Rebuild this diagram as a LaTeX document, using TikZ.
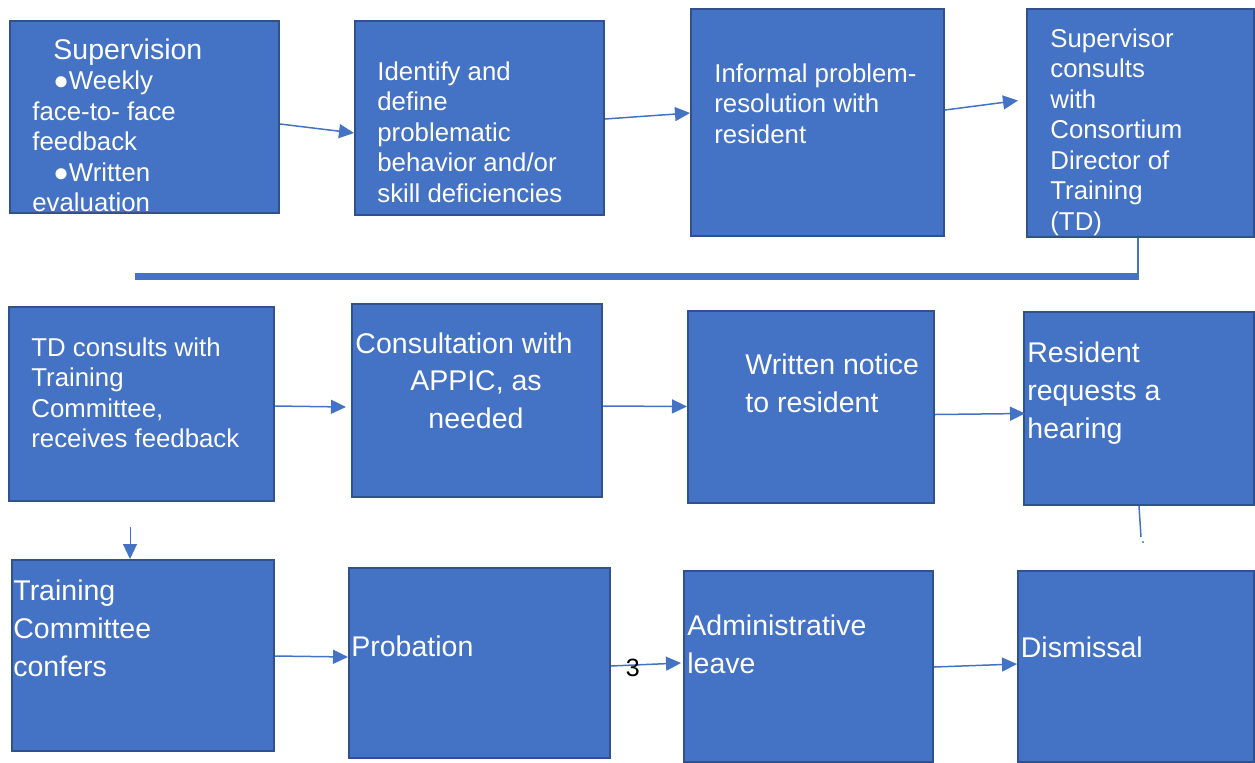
\documentclass[tikz,border=0pt]{standalone}
\usepackage{fontspec}
\setmainfont{Liberation Sans}
\usepackage{tikz}
\usetikzlibrary{arrows.meta}
\definecolor{boxblue}{HTML}{4472C4}
\definecolor{boxedge}{HTML}{2F528F}

\begin{document}
\begin{tikzpicture}[x=0.5pt,y=-0.5pt,
    box/.style={draw=boxedge,fill=boxblue,line width=1pt,inner sep=0pt},
    small/.style={text=white,inner sep=0pt,anchor=base west,align=left,font=\fontsize{12.9}{15.25}\selectfont},
    big/.style={text=white,inner sep=0pt,anchor=base west,align=left,font=\fontsize{14.25}{19}\selectfont},
    arr/.style={draw=boxblue,line width=0.75pt,-{Triangle[length=7.5pt,width=7pt]}},
    link/.style={draw=boxblue,line width=0.75pt}]
  \useasboundingbox (0,0) rectangle (1255,762);

  % first row
  \node[box,minimum width=134.5pt,minimum height=96pt] (sup) at (144.5,117) {};
  \node[box,minimum width=124.5pt,minimum height=97pt] (idf) at (479.5,118) {};
  \node[box,minimum width=126.5pt,minimum height=113.5pt] (inf) at (817.5,122.5) {};
  \node[box,minimum width=113.5pt,minimum height=114pt] (con) at (1140.5,123) {};

  % text nodes sit on the baseline of their last line
  \begin{scope}
    \clip (sup.north west) rectangle (sup.south east);
    \node[small] (supT) at (32,211.5) {\hspace*{10.5pt}{\fontsize{14.25}{15.25}\selectfont Supervision}\\
      \hspace*{10.5pt}●Weekly\\face-to- face\\feedback\\\hspace*{10.5pt}●Written\\evaluation};
  \end{scope}
  \node[small] (idfT) at (377,202) {Identify and\\define\\problematic\\behavior and/or\\skill deficiencies};
  \node[small] (infT) at (714,143) {Informal problem-\\resolution with\\resident};
  \node[small] (conT) at (1050,230) {Supervisor\\consults\\with\\Consortium\\Director of\\Training\\(TD)};

  \draw[arr] ([yshift=-3.5pt]sup.east) -- ([yshift=-7.5pt]idf.west);
  \draw[arr] ([yshift=-0.5pt]idf.east) -- ([yshift=4.75pt]inf.west);
  \draw[arr] ([yshift=6.25pt]inf.east) -- ([xshift=-4pt,yshift=11.25pt]con.west);

  \coordinate (turn) at (1138,276.5);
  \coordinate (lend) at (135,276.5);
  \draw[link] (con.south -| turn) -- ([yshift=-1.75pt]turn);
  \draw[boxblue,line width=3.5pt] (turn) -- (lend);

  % second row
  \node[box,minimum width=132.5pt,minimum height=97pt] (tdc) at (141.5,404) {};
  \node[box,minimum width=125pt,minimum height=96.5pt] (app) at (477,400.5) {};
  \node[box,minimum width=123pt,minimum height=96pt] (wrn) at (811,407) {};
  \node[box,minimum width=115pt,minimum height=96.5pt] (req) at (1139,408.5) {};

  \node[small] (tdcT) at (31,447.5) {TD consults with\\Training\\Committee,\\receives feedback};
  \node[big,anchor=base,align=center,font=\fontsize{14.25}{18.75}\selectfont] (appT) at (476,428) {Consultation with\hspace*{12pt}\\APPIC, as\\needed};
  \node[big] (wrnT) at (745,412) {Written notice\\to resident};
  \node[big] (reqT) at (1027,438) {Resident\\requests a\\hearing};

  \draw[arr] ([yshift=-1pt]tdc.east) -- ([xshift=-2.5pt,yshift=-3.25pt]app.west);
  \draw[arr] ([yshift=-2.75pt]app.east) -- ([yshift=0.25pt]wrn.west);
  \draw[arr] ([yshift=-3.75pt]wrn.east) -- ([xshift=1pt,yshift=-2.5pt]req.west);

  \coordinate (dstart) at (130,527);
  \coordinate (hend) at (1141,537);
  \coordinate (hdot) at (1143,542);
  \draw[link] (req.south) -- (hend);
  \fill[boxblue] (hdot) circle (0.6pt);

  % third row
  \node[box,minimum width=131pt,minimum height=95.5pt] (tcc) at (143,655.5) {};
  \node[box,minimum width=130.5pt,minimum height=95pt] (prb) at (479.5,663) {};
  \node[box,minimum width=124.5pt,minimum height=95.5pt] (adm) at (808.5,666.5) {};
  \node[box,minimum width=118pt,minimum height=95.5pt] (dis) at (1136,666.5) {};

  \node[big] (tccT) at (13,676) {Training\\Committee\\confers};
  \node[big] (prbT) at (351,656) {Probation};
  \node[big] (admT) at (687,673) {Administrative\\leave};
  \node[big] (disT) at (1020.5,657) {Dismissal};

  \draw[arr,line width=0.5pt] (dstart) -- (dstart |- tcc.north);
  \draw[arr] ([yshift=-0.25pt]tcc.east) -- ([yshift=3pt]prb.west);
  \draw[arr] ([yshift=-1.5pt]prb.east) -- ([xshift=-1pt,yshift=1.75pt]adm.west)
    node[pos=0.31,yshift=-1.5pt,font=\fontsize{12.5}{15}\selectfont] (three) {3};
  \draw[arr] ([yshift=-0.25pt]adm.east) -- ([yshift=1.25pt]dis.west);
\end{tikzpicture}
\end{document}
